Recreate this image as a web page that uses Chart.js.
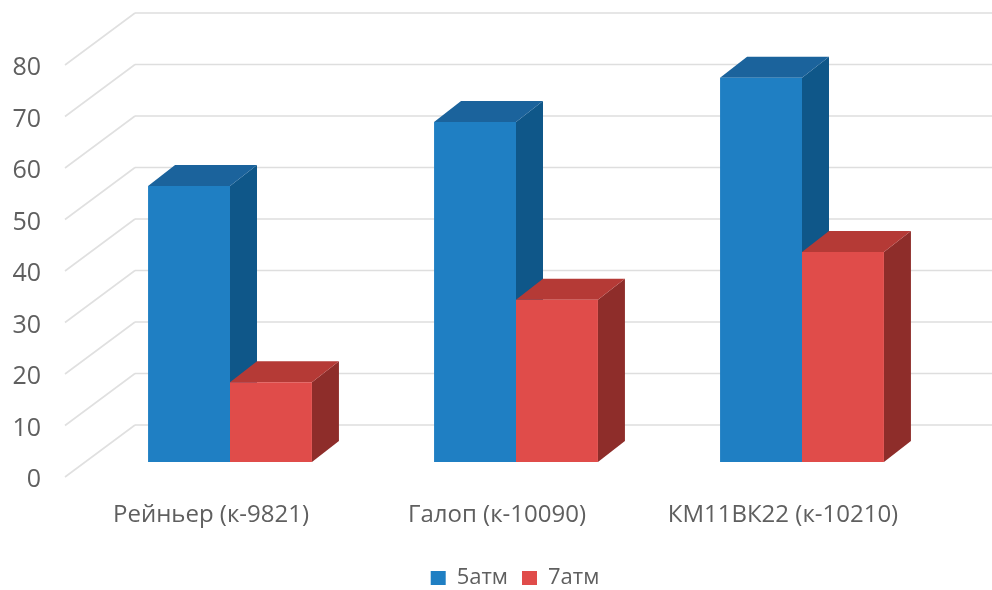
<!DOCTYPE html>
<html>
<head>
<meta charset="utf-8">
<title>Давление 5 и 7 атм</title>
<script src="https://cdn.jsdelivr.net/npm/chart.js@4/dist/chart.umd.min.js"></script>
<style>
  html, body { margin: 0; padding: 0; background: #fff; }
  #wrap { width: 992px; height: 590px; }
</style>
</head>
<body>
<div id="wrap"><canvas id="chart" width="992" height="590"></canvas></div>
<script>
const categories = ['Рейньер (к-9821)', 'Галоп (к-10090)', 'КМ11ВК22 (к-10210)'];
const series5atm = [53.6, 66, 74.6];
const series7atm = [15.5, 31.5, 40.8];
const axisMax = 80;
const axisStep = 10;

const textColor = '#5f5f5f';
const fontFamily = '"Open Sans", sans-serif';

// Pseudo-3D geometry: the bars stand part way into the floor, the wall sits behind them.
const wallDepth = { x: 70, y: 52 };
const barInset = { x: 19, y: 15 };
const barDepth = { x: 27, y: 21 };
const legendShift = 52;
const axisLabelDrop = 3;

const faceColors = {
  '5атм': { top: '#1b639c', side: '#0f5789' },
  '7атм': { top: '#b53a36', side: '#8e2d2a' }
};

function polygon(ctx, points, fill) {
  ctx.beginPath();
  points.forEach(([x, y], i) => (i ? ctx.lineTo(x, y) : ctx.moveTo(x, y)));
  ctx.closePath();
  ctx.fillStyle = fill;
  ctx.fill();
}

const wallGrid = {
  id: 'wallGrid',
  beforeDatasetsDraw(chart) {
    const { ctx, chartArea, scales } = chart;
    const yScale = scales.y;
    ctx.save();
    ctx.lineWidth = 1.6;
    for (const tick of yScale.ticks) {
      const y = yScale.getPixelForValue(tick.value);
      const backX = chartArea.left + wallDepth.x - 3;
      const backY = y - wallDepth.y;
      ctx.strokeStyle = '#e0e0e0';
      ctx.beginPath();
      ctx.moveTo(chartArea.left - 3, y);
      ctx.lineTo(backX, backY);
      ctx.stroke();
      ctx.strokeStyle = '#dedede';
      ctx.beginPath();
      ctx.moveTo(backX, backY);
      ctx.lineTo(chart.width, backY);
      ctx.stroke();
    }
    ctx.restore();
  }
};

// Top and side faces go down first, series by series, so that each later
// series covers the side of the one to its left; the front faces follow.
const bars3d = {
  id: 'bars3d',
  beforeDatasetsDraw(chart) {
    const { ctx } = chart;
    ctx.save();
    ctx.translate(barInset.x, -barInset.y);
    chart.data.datasets.forEach((dataset, index) => {
      const colors = faceColors[dataset.label];
      chart.getDatasetMeta(index).data.forEach((bar) => {
        const { x, y, base, width } = bar.getProps(['x', 'y', 'base', 'width'], true);
        const left = x - width / 2;
        const right = x + width / 2;
        polygon(ctx, [
          [right, y], [right + barDepth.x, y - barDepth.y],
          [right + barDepth.x, base - barDepth.y], [right, base]
        ], colors.side);
        polygon(ctx, [
          [left, y], [left + barDepth.x, y - barDepth.y],
          [right + barDepth.x, y - barDepth.y], [right, y]
        ], colors.top);
      });
    });
    ctx.restore();
  },
  beforeDatasetDraw(chart) {
    chart.ctx.save();
    chart.ctx.translate(barInset.x, -barInset.y);
  },
  afterDatasetDraw(chart) {
    chart.ctx.restore();
  }
};

// The legend is centred under the bars rather than under the axis,
// and the value labels sit a little below their grid lines.
const layoutTweaks = {
  id: 'layoutTweaks',
  afterLayout(chart) {
    chart.legend.left += legendShift;
    chart.legend.right += legendShift;
    const yScale = chart.scales.y;
    const drawLabels = yScale.drawLabels;
    yScale.drawLabels = function (area) {
      this.ctx.save();
      this.ctx.translate(0, axisLabelDrop);
      drawLabels.call(this, area);
      this.ctx.restore();
    };
  }
};

new Chart(document.getElementById('chart'), {
  type: 'bar',
  data: {
    labels: categories,
    datasets: [
      { label: '5атм', data: series5atm, backgroundColor: '#1f7fc3' },
      { label: '7атм', data: series7atm, backgroundColor: '#e04c4a' }
    ]
  },
  options: {
    responsive: false,
    animation: false,
    layout: { padding: { top: 65, right: 66, bottom: -9, left: 0 } },
    datasets: { bar: { categoryPercentage: 0.573, barPercentage: 1 } },
    scales: {
      x: {
        grid: { display: false, drawTicks: false },
        border: { display: false },
        afterFit(scale) { scale.height = 76; },
        ticks: {
          color: textColor, padding: 24, maxRotation: 0, autoSkip: false,
          font: { family: fontFamily, size: 24 }
        }
      },
      y: {
        min: 0,
        max: axisMax,
        grid: { display: false, drawTicks: false },
        border: { display: false },
        afterFit(scale) { scale.width = 68; },
        ticks: {
          stepSize: axisStep, color: textColor, padding: 27,
          font: { family: fontFamily, size: 25 }
        }
      }
    },
    plugins: {
      title: { display: false },
      tooltip: { enabled: false },
      legend: {
        position: 'bottom',
        labels: {
          boxWidth: 15, boxHeight: 14, padding: 14, color: textColor,
          font: { family: fontFamily, size: 22 }
        }
      }
    }
  },
  plugins: [wallGrid, bars3d, layoutTweaks]
});
</script>
</body>
</html>
